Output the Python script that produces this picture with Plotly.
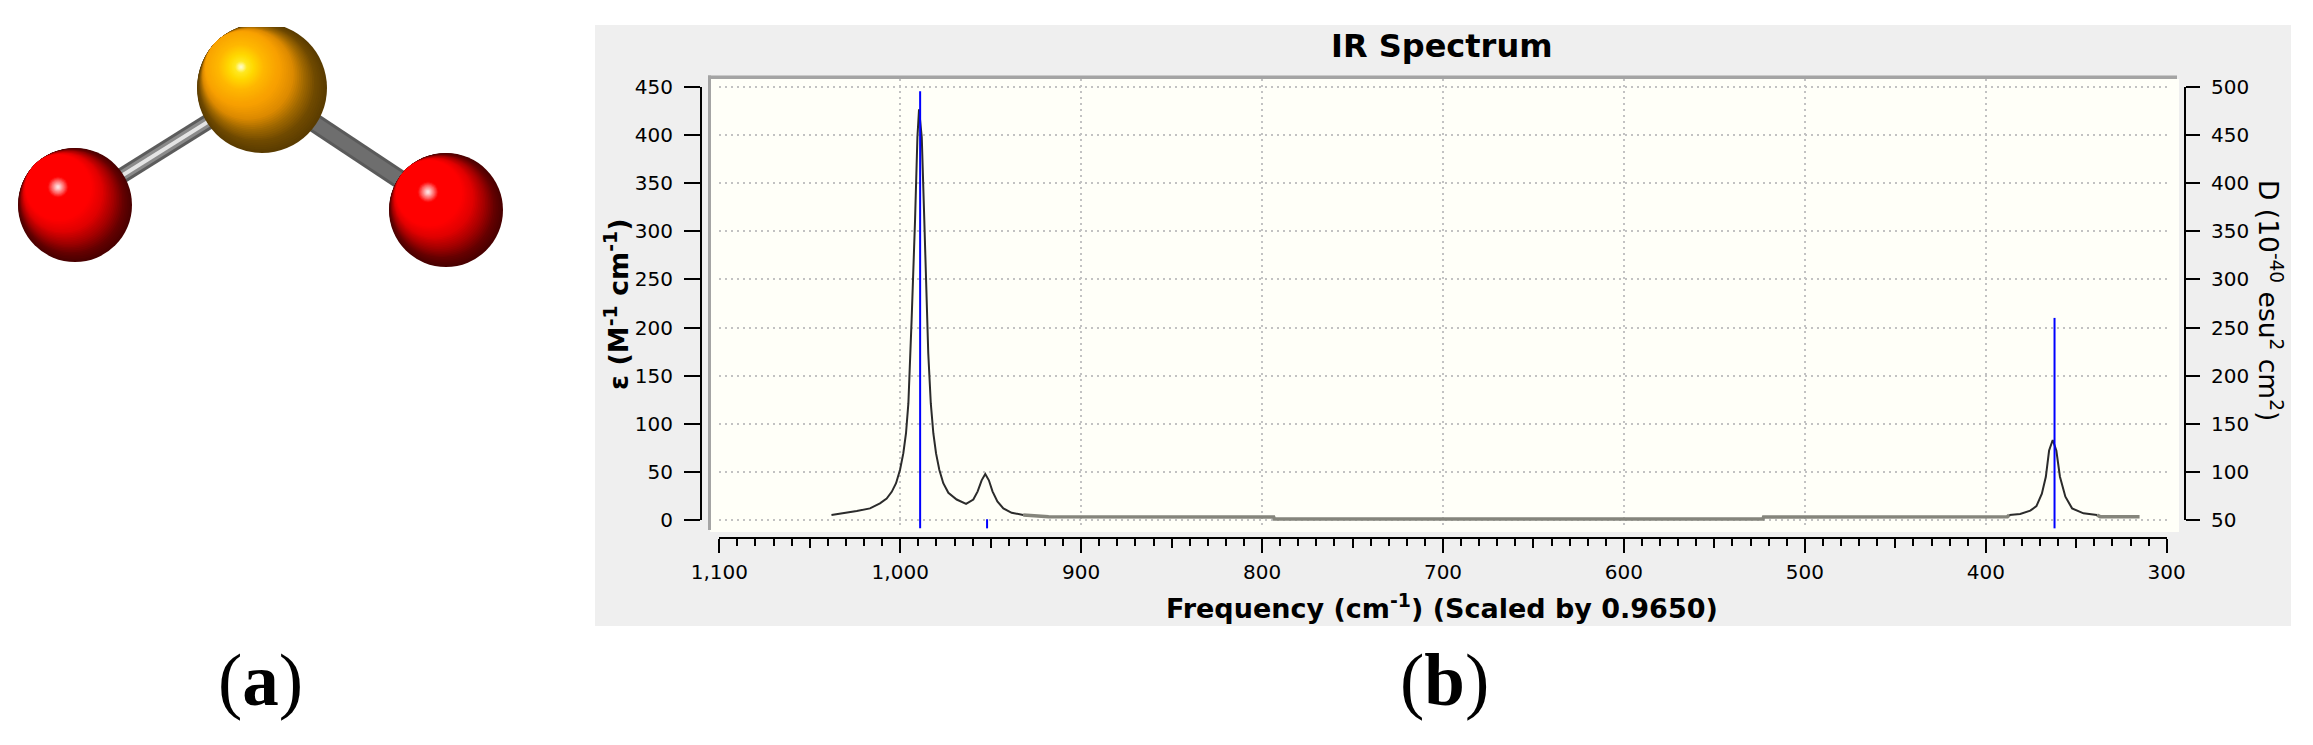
import plotly.graph_objects as go

WIDTH = 2313
HEIGHT = 745

# spectrum
freq = [1038, 1031.4, 1024, 1016.7, 1011.2, 1007.5, 1004.7, 1002.3, 1000.1, 998.3, 996.8, 995.5, 994.2,
        993.7, 991.8, 990.5, 989.6, 988.1, 986.7, 985, 984.5, 983.1, 981.7, 980.2, 978.4, 976.2, 973.4,
        968.8, 963.6, 959.6, 957.2, 955, 953, 951, 949, 946.3, 943, 938.4, 932, 920, 918, 793.6, 793.2,
        523.2, 522.8, 388, 387, 381, 375.4, 372, 369, 366.8, 365, 363, 361, 359, 356, 352.3, 346, 338.5,
        336.8, 315]
epsilon = [4.9, 6.6, 9, 11.8, 17, 22, 29, 38, 52, 69, 90, 121, 173,
           208, 312, 398, 427, 398, 312, 208, 173, 121, 90, 69, 52, 38, 28,
           21, 16.5, 21, 29.5, 41, 47.5, 41, 29.5, 19, 11.8, 7.2, 4.9, 4.2, 3.2, 2.8, 0.6,
           0.6, 2.8, 3.2, 4.9, 6, 9.4, 14.2, 27, 44.7, 72, 83, 72, 44.7, 24, 11.8, 6.6, 4.9,
           3.2, 3.2]

stick_freq = [989, 952, 362]
stick_top = [496, 50.5, 260]
stick_base = 41

freq_ticks = [1100, 1000, 900, 800, 700, 600, 500, 400, 300]
freq_labels = ["1,100", "1,000", "900", "800", "700", "600", "500", "400", "300"]
freq_mid_ticks = [1050, 950, 850, 750, 650, 550, 450, 350]
eps_ticks = [0, 50, 100, 150, 200, 250, 300, 350, 400, 450]
dip_ticks = [50, 100, 150, 200, 250, 300, 350, 400, 450, 500]

# molecule, in picture pixels
atom_x = [75, 446, 262]
atom_y = [205, 210, 88]
atom_r = [57, 57, 65]
shine_x = [58, 428, 241]
shine_y = [187, 192, 67]
bond_from = [2, 2]
bond_to = [0, 1]

RED_RAMP = [(1.0, "#4a0000"), (0.92, "#640000"), (0.82, "#a00000"), (0.7, "#e00000"), (0.58, "#ff0000"),
            (0.19, "#ff0000"), (0.11, "#ff7070"), (0.03, "#ffd8d8"), (0.0, "#ffe8e8")]
GOLD_RAMP = [(1.0, "#5a3c00"), (0.9, "#704a00"), (0.8, "#a06800"), (0.7, "#dc8a00"), (0.58, "#f8a000"),
             (0.35, "#ffb800"), (0.2, "#ffd800"), (0.1, "#ffe820"), (0.04, "#fff8a0"), (0.0, "#ffffe0")]
atom_ramp = [RED_RAMP, RED_RAMP, GOLD_RAMP]


def px_x(p):
    return p / WIDTH


def px_y(p):
    return 1 - p / HEIGHT


def ramp_color(ramp, k):
    for (k1, c1), (k2, c2) in zip(ramp, ramp[1:]):
        if k <= k1 and k >= k2:
            f = (k1 - k) / (k1 - k2)
            rgb = [round(int(c1[i:i + 2], 16) * (1 - f) + int(c2[i:i + 2], 16) * f) for i in (1, 3, 5)]
            return "rgb(%d,%d,%d)" % tuple(rgb)
    return ramp[-1][1]


fig = go.Figure()

# the x/y subplot only holds the grid, it has to stay at the bottom
fig.add_trace(go.Scatter(x=[None], y=[None], xaxis="x", yaxis="y", hoverinfo="skip"))

# molecule
for width, color in [(16, "#5c5c5c"), (10, "#8a8a8a"), (4, "#e4e4e4")]:
    fig.add_trace(go.Scatter(x=[atom_x[bond_from[0]], atom_x[bond_to[0]]],
                             y=[atom_y[bond_from[0]], atom_y[bond_to[0]]],
                             mode="lines", line=dict(color=color, width=width),
                             xaxis="x4", yaxis="y4", hoverinfo="skip"))
for width, color in [(19, "#5a5a5a"), (13, "#6e6e6e")]:
    fig.add_trace(go.Scatter(x=[atom_x[bond_from[1]], atom_x[bond_to[1]]],
                             y=[atom_y[bond_from[1]], atom_y[bond_to[1]]],
                             mode="lines", line=dict(color=color, width=width),
                             xaxis="x4", yaxis="y4", hoverinfo="skip"))

for i in range(len(atom_x)):
    # nested discs slide towards the highlight, so the dark crescent stays lower right
    steps = 60
    dx = shine_x[i] - atom_x[i]
    dy = shine_y[i] - atom_y[i]
    dist = (dx ** 2 + dy ** 2) ** 0.5
    xs, ys, sizes, colors = [], [], [], []
    for s in range(steps):
        k = 1 - s / steps
        r = atom_r[i] * k
        shift = min(atom_r[i] - r, dist)
        xs.append(atom_x[i] + dx / dist * shift)
        ys.append(atom_y[i] + dy / dist * shift)
        sizes.append(2 * r)
        colors.append(ramp_color(atom_ramp[i], k))
    fig.add_trace(go.Scatter(x=xs, y=ys, mode="markers",
                             marker=dict(size=sizes, color=colors, line=dict(width=0), opacity=1),
                             xaxis="x4", yaxis="y4", hoverinfo="skip"))

# spectrum on the hidden axes that fill the cream area: gray on the flat parts, dark on the peaks
flat_y = [e if e <= 5 else None for e in epsilon]
peak_y = [e if e >= 4.9 else None for e in epsilon]
fig.add_trace(go.Scatter(x=freq, y=flat_y, mode="lines", line=dict(color="#85857c", width=3.5),
                         xaxis="x6", yaxis="y8", hoverinfo="skip"))
fig.add_trace(go.Scatter(x=freq, y=peak_y, mode="lines", line=dict(color="#2b2b2b", width=2),
                         xaxis="x6", yaxis="y8", hoverinfo="skip"))
stick_x, stick_y = [], []
for f, top in zip(stick_freq, stick_top):
    stick_x += [f, f, None]
    stick_y += [stick_base, top, None]
fig.add_trace(go.Scatter(x=stick_x, y=stick_y, mode="lines", line=dict(color="#0000ff", width=2),
                         xaxis="x6", yaxis="y9", hoverinfo="skip"))

# empty traces so the tick-only axes get drawn
fig.add_trace(go.Scatter(x=[None], y=[None], xaxis="x2", yaxis="y3", hoverinfo="skip"))
fig.add_trace(go.Scatter(x=[None], y=[None], xaxis="x7", yaxis="y3", hoverinfo="skip"))
fig.add_trace(go.Scatter(x=[None], y=[None], xaxis="x3", yaxis="y5", hoverinfo="skip"))
fig.add_trace(go.Scatter(x=[None], y=[None], xaxis="x3", yaxis="y6", hoverinfo="skip"))

tick_font = dict(family="DejaVu Sans", size=20, color="#000000")
label_font = dict(family="DejaVu Sans", size=27, color="#000000")
panel_font = dict(family="Liberation Serif", size=73, color="#000000")
GRID = dict(showgrid=True, gridcolor="#c2c2c2", griddash="2px,4px", gridwidth=2)

# pixel positions of the panels
CREAM = (710, 2179, 79, 532)
AX_L, AX_R = 719.3, 2166.7
AX_T, AX_B = 87.3, 519.7
GRID_BOTTOM = 525
PX_PER_FREQ = (AX_R - AX_L) / 800
PX_PER_EPS = (AX_B - AX_T) / 450
r_left = 1100 + (AX_L - CREAM[0]) / PX_PER_FREQ
r_right = 300 - (CREAM[1] - AX_R) / PX_PER_FREQ
r_top = 450 + (AX_T - CREAM[2]) / PX_PER_EPS
r_bottom = -(CREAM[3] - AX_B) / PX_PER_EPS
r_grid_bottom = -(GRID_BOTTOM - AX_B) / PX_PER_EPS

fig.update_layout(
    width=WIDTH, height=HEIGHT, margin=dict(l=0, r=0, t=0, b=0, autoexpand=False),
    paper_bgcolor="#ffffff", plot_bgcolor="rgba(0,0,0,0)", showlegend=False,
    # grid only
    xaxis=dict(domain=[px_x(AX_L), px_x(AX_R)], range=[1100, 300], anchor="y", showline=False, zeroline=False,
               tickmode="array", tickvals=freq_ticks, ticks="", showticklabels=False, **GRID),
    yaxis=dict(domain=[px_y(GRID_BOTTOM), px_y(CREAM[2])], range=[r_grid_bottom, r_top], anchor="x",
               showline=False, zeroline=False, tickmode="array", tickvals=eps_ticks, ticks="",
               showticklabels=False, **GRID),
    # data
    xaxis6=dict(domain=[px_x(CREAM[0]), px_x(CREAM[1])], range=[r_left, r_right], anchor="y8", visible=False),
    yaxis8=dict(domain=[px_y(CREAM[3]), px_y(CREAM[2])], range=[r_bottom, r_top], anchor="x6", visible=False),
    yaxis9=dict(overlaying="y8", anchor="x6", range=[r_bottom + 50, r_top + 50], visible=False),
    # visible frequency axis, below the cream area
    xaxis2=dict(domain=[px_x(AX_L), px_x(AX_R)], range=[1100, 300], anchor="y3", side="bottom",
                showline=True, linecolor="#000000", linewidth=2, showgrid=False, zeroline=False,
                tickmode="array", tickvals=freq_ticks, ticktext=freq_labels, ticks="outside",
                ticklen=14, tickwidth=2, tickcolor="#000000", tickfont=tick_font, ticklabelstandoff=2,
                minor=dict(dtick=10, tick0=300, ticks="outside", ticklen=7, tickwidth=2,
                           tickcolor="#000000", showgrid=False)),
    xaxis7=dict(overlaying="x2", anchor="y3", side="bottom", range=[1100, 300], showline=False, showgrid=False,
                zeroline=False, tickmode="array", tickvals=freq_mid_ticks, ticks="outside", ticklen=10,
                tickwidth=2, tickcolor="#000000", showticklabels=False),
    yaxis3=dict(domain=[px_y(537), px_y(530)], range=[0, 1], anchor="x2", visible=False),
    # visible epsilon axis on the left, dipole axis on the right
    xaxis3=dict(domain=[px_x(702), px_x(2184)], range=[0, 1], anchor="y5", visible=False),
    yaxis5=dict(domain=[px_y(AX_B), px_y(AX_T)], range=[0, 450], anchor="x3", side="left",
                showline=True, linecolor="#000000", linewidth=2, showgrid=False, zeroline=False,
                tickmode="array", tickvals=eps_ticks, ticks="outside", ticklen=16, tickwidth=2,
                tickcolor="#000000", tickfont=tick_font, ticklabelstandoff=7),
    yaxis6=dict(overlaying="y5", anchor="x3", side="right", range=[50, 500],
                showline=True, linecolor="#000000", linewidth=2, showgrid=False, zeroline=False,
                tickmode="array", tickvals=dip_ticks, ticks="outside", ticklen=14, tickwidth=2,
                tickcolor="#000000", tickfont=tick_font, ticklabelstandoff=7),
    # molecule drawn in picture pixels, its top is cut off as in the original image
    xaxis4=dict(domain=[0, px_x(540)], range=[0, 540], anchor="y4", visible=False),
    yaxis4=dict(domain=[px_y(300), px_y(27)], range=[300, 27], anchor="x4", visible=False),
    shapes=[
        dict(type="rect", xref="paper", yref="paper", layer="below", line=dict(width=0), fillcolor="#efefef",
             x0=px_x(595), x1=px_x(2291), y0=px_y(626), y1=px_y(25)),
        dict(type="rect", xref="paper", yref="paper", layer="below", line=dict(width=0), fillcolor="#fffff8",
             x0=px_x(CREAM[0]), x1=px_x(CREAM[1]), y0=px_y(CREAM[3]), y1=px_y(CREAM[2])),
        dict(type="rect", xref="paper", yref="paper", layer="below", line=dict(width=0), fillcolor="#a4a4a4",
             x0=px_x(708), x1=px_x(2177), y0=px_y(79), y1=px_y(75.5)),
        dict(type="rect", xref="paper", yref="paper", layer="below", line=dict(width=0), fillcolor="#a4a4a4",
             x0=px_x(708), x1=px_x(711), y0=px_y(530), y1=px_y(75.5)),
    ],
    annotations=[
        dict(text="<b>IR Spectrum</b>", x=px_x(1442), y=px_y(46), xref="paper", yref="paper", showarrow=False,
             font=label_font | dict(size=32), xanchor="center", yanchor="middle"),
        dict(text="<b>Frequency (cm<sup>-1</sup>) (Scaled by 0.9650)</b>", x=px_x(1442), y=px_y(606),
             xref="paper", yref="paper", showarrow=False, font=label_font,
             xanchor="center", yanchor="middle"),
        dict(text="<b>ε (M<sup>-1</sup> cm<sup>-1</sup>)</b>", x=px_x(616), y=px_y(304), xref="paper", yref="paper",
             showarrow=False, font=label_font, textangle=-90, xanchor="center", yanchor="middle"),
        dict(text="D (10<sup>-40</sup> esu<sup>2</sup> cm<sup>2</sup>)", x=px_x(2270), y=px_y(300), xref="paper",
             yref="paper", showarrow=False, font=label_font | dict(size=26.5), textangle=90,
             xanchor="center", yanchor="middle"),
        dict(text="(<b>a</b>)", x=px_x(260), y=px_y(680), xref="paper", yref="paper", showarrow=False,
             font=panel_font, xanchor="center", yanchor="middle"),
        dict(text="(<b>b</b>)", x=px_x(1444), y=px_y(680), xref="paper", yref="paper", showarrow=False,
             font=panel_font, xanchor="center", yanchor="middle"),
    ],
)

fig.write_html("out.html", config=dict(displayModeBar=False),
               post_script="document.body.style.margin='0';document.body.style.overflow='hidden';")
